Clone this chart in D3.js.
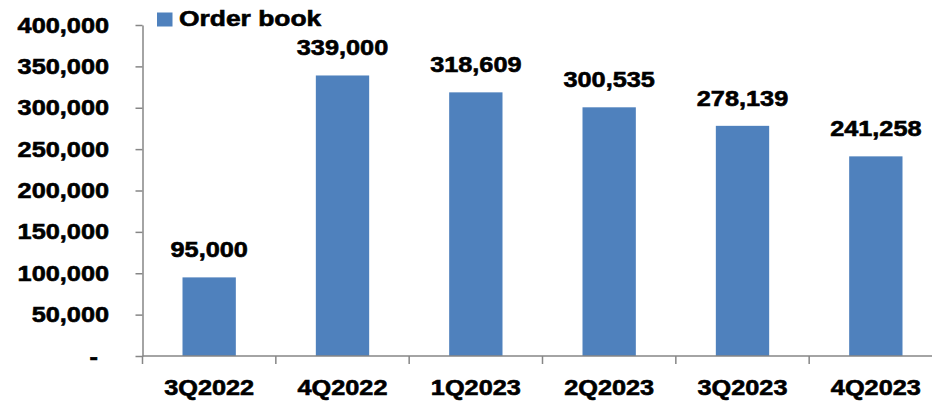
<!DOCTYPE html>
<html>
<head>
<meta charset="utf-8">
<script src="https://cdn.jsdelivr.net/npm/d3@7"></script>
<style>
  html, body { margin: 0; padding: 0; background: #fff; }
  svg { display: block; font-family: "Liberation Sans", Arial, sans-serif; font-weight: bold; }
  svg text { stroke: #000; stroke-width: 0.6px; }
</style>
</head>
<body>
<svg id="chart" width="932" height="402"></svg>
<script>
const categories = ["3Q2022", "4Q2022", "1Q2023", "2Q2023", "3Q2023", "4Q2023"];
const orderBook = [95000, 339000, 318609, 300535, 278139, 241258];
const yTickValues = [0, 50000, 100000, 150000, 200000, 250000, 300000, 350000, 400000];
const yTickLabels = ["-", "50,000", "100,000", "150,000", "200,000", "250,000", "300,000", "350,000", "400,000"];
const seriesName = "Order book";

(function () {
const plotLeft = 142.5, plotRight = 942.5, plotTop = 25, plotBottom = 356;
const sx = 1.15;
const axisColor = "#868686";
const barColor = "#4F81BD";
const fs = 22;

const svg = d3.select("#chart");

const y = d3.scaleLinear().domain([0, 400000]).range([plotBottom, plotTop]);
const x = d3.scaleBand().domain(categories).range([plotLeft, plotRight]).paddingInner(0.6).paddingOuter(0.3);
const xb = d3.scaleBand().domain(categories).range([plotLeft, plotRight]).padding(0);

// bars
svg.append("g").selectAll("rect").data(categories).join("rect")
  .attr("x", d => x(d))
  .attr("y", (d, i) => y(orderBook[i]))
  .attr("width", x.bandwidth())
  .attr("height", (d, i) => y(0) - y(orderBook[i]))
  .attr("fill", barColor);

// value labels
svg.append("g").selectAll("text").data(categories).join("text")
  .attr("transform", (d, i) => `translate(${x(d) + x.bandwidth() / 2},${y(orderBook[i]) - 20}) scale(${sx},1)`)
  .attr("text-anchor", "middle")
  .attr("font-size", fs)
  .attr("fill", "#000")
  .text((d, i) => d3.format(",")(orderBook[i]));

// y axis
const yAxis = svg.append("g")
  .attr("transform", `translate(${plotLeft},0)`)
  .call(d3.axisLeft(y).tickValues(yTickValues).tickSize(7).tickSizeOuter(0)
    .tickFormat((d, i) => yTickLabels[i]));
yAxis.select(".domain").attr("stroke", axisColor).attr("stroke-width", 1.5);
yAxis.selectAll(".tick line").attr("stroke", axisColor).attr("stroke-width", 1.5);
yAxis.selectAll(".tick text")
  .attr("x", 0)
  .attr("font-size", fs)
  .attr("font-family", "Liberation Sans, Arial, sans-serif")
  .attr("font-weight", "bold")
  .attr("fill", "#000")
  .attr("transform", (d) => `translate(${d === 0 ? -44.5 : -33.5},0) scale(${sx},1)`);

// x axis
const xg = svg.append("g");
xg.append("line")
  .attr("x1", plotLeft).attr("x2", plotRight).attr("y1", plotBottom).attr("y2", plotBottom)
  .attr("stroke", axisColor).attr("stroke-width", 1.5);
const boundaries = categories.map(d => xb(d)).concat([xb(categories[categories.length - 1]) + xb.bandwidth()]);
xg.selectAll("line.tk").data(boundaries).join("line")
  .attr("class", "tk")
  .attr("x1", d => d).attr("x2", d => d)
  .attr("y1", plotBottom).attr("y2", plotBottom + 8)
  .attr("stroke", axisColor).attr("stroke-width", 1.5);
xg.selectAll("text").data(categories).join("text")
  .attr("transform", d => `translate(${xb(d) + xb.bandwidth() / 2},395) scale(${sx},1)`)
  .attr("text-anchor", "middle")
  .attr("font-size", fs)
  .attr("fill", "#000")
  .text(d => d);

// legend
const lg = svg.append("g");
lg.append("rect").attr("x", 157).attr("y", 12.5).attr("width", 15.5).attr("height", 14).attr("fill", barColor);
lg.append("text")
  .attr("transform", `translate(179,26.3) scale(1.2,1)`)
  .attr("font-size", fs)
  .attr("fill", "#000")
  .text(seriesName);
})();
</script>
</body>
</html>
